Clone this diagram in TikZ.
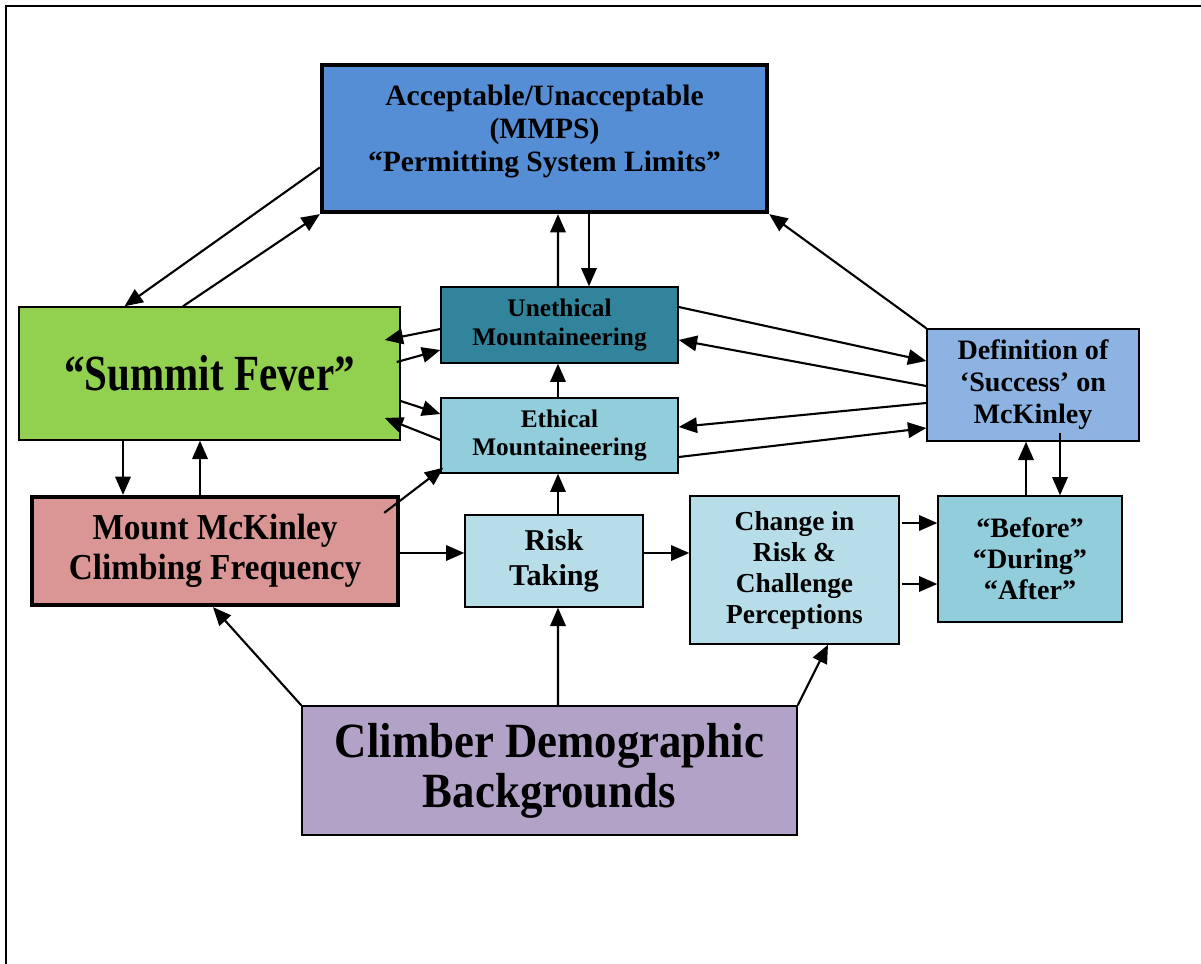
\documentclass[tikz,border=0pt]{standalone}
\usepackage{fontspec}
\setmainfont{Liberation Serif}
\newfontfamily\tightserif[FakeStretch=0.81]{Liberation Serif}
\newfontfamily\narrowserif[FakeStretch=0.91]{Liberation Serif}
\usepackage{xcolor}
\usepackage{tikz}
\usetikzlibrary{arrows.meta, calc}
\definecolor{mmpsblue}{HTML}{558ED5}
\definecolor{fevergreen}{HTML}{92D050}
\definecolor{unethteal}{HTML}{31849B}
\definecolor{ethaqua}{HTML}{92CDDC}
\definecolor{successblue}{HTML}{8DB3E2}
\definecolor{freqrose}{HTML}{D99694}
\definecolor{riskpale}{HTML}{B7DEE8}
\definecolor{demolilac}{HTML}{B2A2C7}
\tikzset{
  mapbox/.style={
    draw, line width=1pt, align=center, inner sep=2pt
  },
  mapboxthick/.style={
    mapbox, line width=3pt
  },
  flowarrow/.style={
    -{Triangle[length=13pt,width=11pt]}, line width=1.5pt
  },
  framestroke/.style={line width=1pt},
}

\begin{document}
\begin{tikzpicture}[x=0.025cm, y=-0.025cm]
  \useasboundingbox (0,0) rectangle (1201,964);
  % page frame
  \draw[framestroke] (6,964) -- (6,6) -- (1201,6);

  % boxes
  \node[mapboxthick, fill=mmpsblue, minimum width=11.125cm, minimum height=3.675cm,
    font={\bfseries\fontsize{21}{23.5}\selectfont}] (mmps) at (544.5,138.5)
    {\raisebox{5pt}[\height][\depth]{\begin{tabular}{@{}c@{}}Acceptable/Unacceptable\\(MMPS)\\“Permitting System Limits”\end{tabular}}};
  \node[mapbox, fill=fevergreen, minimum width=9.525cm, minimum height=3.325cm,
    font={\tightserif\bfseries\fontsize{36}{40}\selectfont}] (summit) at (209.5,373.5)
    {“Summit Fever”};
  \node[mapbox, fill=unethteal, minimum width=5.925cm, minimum height=1.9cm,
    font={\bfseries\fontsize{18}{20.6}\selectfont}] (uneth) at (559.5,325)
    {Unethical\\Mountaineering};
  \node[mapbox, fill=ethaqua, minimum width=5.925cm, minimum height=1.875cm,
    font={\bfseries\fontsize{18}{20.6}\selectfont}] (eth) at (559.5,435.5)
    {Ethical\\Mountaineering};
  \node[mapbox, fill=successblue, minimum width=5.3cm, minimum height=2.8cm,
    font={\bfseries\fontsize{20}{22.8}\selectfont}] (defn) at (1033,385)
    {Definition of\\‘Success’ on\\McKinley};
  \node[mapboxthick, fill=freqrose, minimum width=9.15cm, minimum height=2.7cm,
    font={\narrowserif\bfseries\fontsize{26}{28.4}\selectfont}] (freq) at (215,551)
    {Mount McKinley\\Climbing Frequency};
  \node[mapbox, fill=riskpale, minimum width=4.45cm, minimum height=2.3cm,
    font={\bfseries\fontsize{21.5}{25}\selectfont}] (risk) at (554,561)
    {Risk\\Taking};
  \node[mapbox, fill=riskpale, minimum width=5.225cm, minimum height=3.7cm,
    font={\bfseries\fontsize{19.5}{22}\selectfont}] (change) at (794.5,570)
    {Change in\\Risk \&\\Challenge\\Perceptions};
  \node[mapbox, fill=ethaqua, minimum width=4.6cm, minimum height=3.15cm,
    font={\bfseries\fontsize{20}{22}\selectfont}] (bda) at (1030,559)
    {“Before”\\“During”\\“After”};
  \node[mapbox, fill=demolilac, minimum width=12.375cm, minimum height=3.225cm,
    font={\narrowserif\bfseries\fontsize{35}{35.5}\selectfont}] (climber) at (549.5,770.5)
    {Climber Demographic\\Backgrounds};

  % links to the MMPS box
  \draw[flowarrow] ($(mmps.west)+(0,29)$) -- ($(summit.north)+(-85,0)$);
  \draw[flowarrow] ($(summit.north)+(-26.5,0)$) -- (mmps.south west);
  \draw[flowarrow] ($(uneth.north)+(-1.5,0)$) -- ($(mmps.south)+(13.5,0)$);
  \draw[flowarrow] ($(mmps.south)+(44.5,0)$) -- ($(uneth.north)+(29.5,0)$);
  \draw[flowarrow] (defn.north west) -- (mmps.south east);

  % summit fever and the two ethics boxes
  \draw[flowarrow] ($(uneth.west)+(0,4)$) -- ($(summit.east)+(-16,-33.5)$);
  \draw[flowarrow] ($(summit.east)+(-4,-11.5)$) -- ($(uneth.west)+(0,25)$);
  \draw[flowarrow] ($(summit.east)+(0,27.5)$) -- ($(eth.west)+(0,-21.5)$);
  \draw[flowarrow] ($(eth.west)+(0,4.5)$) -- ($(summit.east)+(-16,44.5)$);
  \draw[flowarrow] ($(eth.north)+(-1.5,0)$) -- ($(uneth.south)+(-1.5,0)$);
  \draw[flowarrow] ($(risk.north)+(4,0)$) -- ($(eth.south)+(-1.5,0)$);
  \draw[flowarrow] ($(freq.north east)+(-16,18)$) -- ($(eth.south west)+(3,-6)$);

  % definition of success
  \draw[flowarrow] ($(uneth.east)+(0,-18)$) -- ($(defn.west)+(0,-24)$);
  \draw[flowarrow] ($(defn.west)+(0,1)$) -- ($(uneth.east)+(0,15)$);
  \draw[flowarrow] ($(defn.west)+(0,18)$) -- ($(eth.east)+(0,-8.5)$);
  \draw[flowarrow] ($(eth.east)+(0,21.5)$) -- ($(defn.west)+(0,43)$);

  % lower row
  \draw[flowarrow] ($(summit.south)+(-86.5,0)$) -- ($(freq.north)+(-92,0)$);
  \draw[flowarrow] ($(freq.north)+(-15,0)$) -- ($(summit.south)+(-9.5,0)$);
  \draw[flowarrow] ($(freq.east)+(0,2)$) -- ($(risk.west)+(0,-8)$);
  \draw[flowarrow] ($(risk.east)+(0,-8)$) -- ($(change.west)+(0,-17)$);
  \draw[flowarrow] ($(change.east)+(2,-47)$) -- ($(bda.west)+(0,-36)$);
  \draw[flowarrow] ($(change.east)+(2,14)$) -- ($(bda.west)+(0,25)$);
  \draw[flowarrow] ($(bda.north)+(-4,0)$) -- ($(defn.south)+(-7,0)$);
  \draw[flowarrow] ($(defn.south)+(27,-9)$) -- ($(bda.north)+(30,0)$);

  % demographic backgrounds
  \draw[flowarrow] (climber.north west) -- ($(freq.south)+(-2,0)$);
  \draw[flowarrow] ($(climber.north)+(8.5,0)$) -- ($(risk.south)+(4,0)$);
  \draw[flowarrow] (climber.north east) -- ($(change.south)+(33.5,0)$);
\end{tikzpicture}
\end{document}
